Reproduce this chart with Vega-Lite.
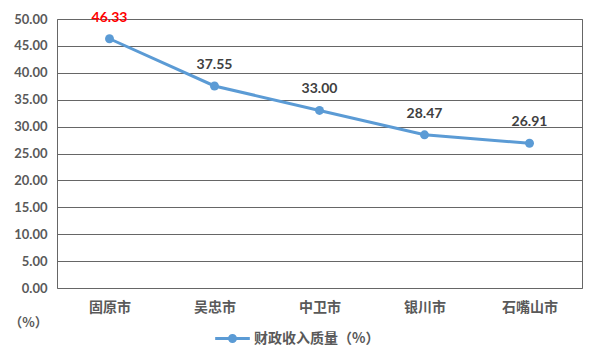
{
  "$schema": "https://vega.github.io/schema/vega-lite/v6.json",
  "width": 525,
  "height": 269,
  "autosize": {"type": "none"},
  "padding": {"left": 57, "top": 19, "right": 20, "bottom": 74},
  "background": "white",
  "data": {"values": [
    {"city": "固原市", "value": 46.33, "series": "财政收入质量（%）", "hl": "red"},
    {"city": "吴忠市", "value": 37.55, "series": "财政收入质量（%）", "hl": "normal"},
    {"city": "中卫市", "value": 33.00, "series": "财政收入质量（%）", "hl": "normal"},
    {"city": "银川市", "value": 28.47, "series": "财政收入质量（%）", "hl": "normal"},
    {"city": "石嘴山市", "value": 26.91, "series": "财政收入质量（%）", "hl": "normal"}
  ]},
  "config": {
    "view": {"stroke": "#666666", "strokeWidth": 1},
    "font": "Noto Sans CJK SC"
  },
  "resolve": {"scale": {"color": "independent"}},
  "encoding": {
    "x": {
      "field": "city", "type": "nominal", "sort": null,
      "scale": {"paddingInner": 0, "paddingOuter": 0},
      "axis": {
        "title": null, "labelAngle": 0, "domain": false, "ticks": false,
        "labelPadding": 12, "labelFontSize": 14, "labelFontWeight": "bold",
        "labelColor": "#595959", "labelFont": "Noto Sans CJK SC", "grid": false
      }
    },
    "y": {
      "field": "value", "type": "quantitative",
      "scale": {"domain": [0, 50], "nice": false},
      "axis": {
        "values": [0, 5, 10, 15, 20, 25, 30, 35, 40, 45, 50],
        "format": ".2f", "domain": false, "ticks": false,
        "labelPadding": 10, "labelFontSize": 13, "labelFontWeight": "bold",
        "labelColor": "#595959", "labelFont": "Lato",
        "grid": true, "gridColor": "#666666", "gridWidth": 1,
        "title": "（%）", "titleAngle": 0, "titleX": -29, "titleY": 303,
        "titleFont": "Noto Sans CJK SC", "titleFontSize": 13, "titleFontWeight": "bold",
        "titleColor": "#595959", "titleAlign": "center", "titleBaseline": "middle"
      }
    }
  },
  "layer": [
    {
      "mark": {"type": "line", "strokeWidth": 3, "color": "#5B9BD5",
               "point": {"filled": true, "size": 80, "color": "#5B9BD5"}},
      "encoding": {
        "color": {
          "field": "series", "type": "nominal",
          "scale": {"range": ["#5B9BD5"]},
          "legend": {
            "title": null, "orient": "none", "legendX": 158, "legendY": 302,
            "symbolType": "M-1,-0.09H1V0.09H-1Z M-0.26,0A0.26,0.26 0 1,1 0.26,0A0.26,0.26 0 1,1 -0.26,0Z",
            "symbolSize": 1200, "symbolStrokeWidth": 0, "symbolFillColor": "#5B9BD5",
            "labelFont": "Noto Sans CJK SC", "labelFontSize": 14, "labelFontWeight": "bold",
            "labelColor": "#595959", "labelOffset": 4
          }
        }
      }
    },
    {
      "mark": {"type": "text", "dy": -21, "font": "Lato", "fontSize": 14, "fontWeight": "bold"},
      "encoding": {
        "text": {"field": "value", "type": "quantitative", "format": ".2f"},
        "color": {
          "field": "hl", "type": "nominal",
          "scale": {"domain": ["red", "normal"], "range": ["#FF0000", "#404040"]},
          "legend": null
        }
      }
    }
  ]
}
